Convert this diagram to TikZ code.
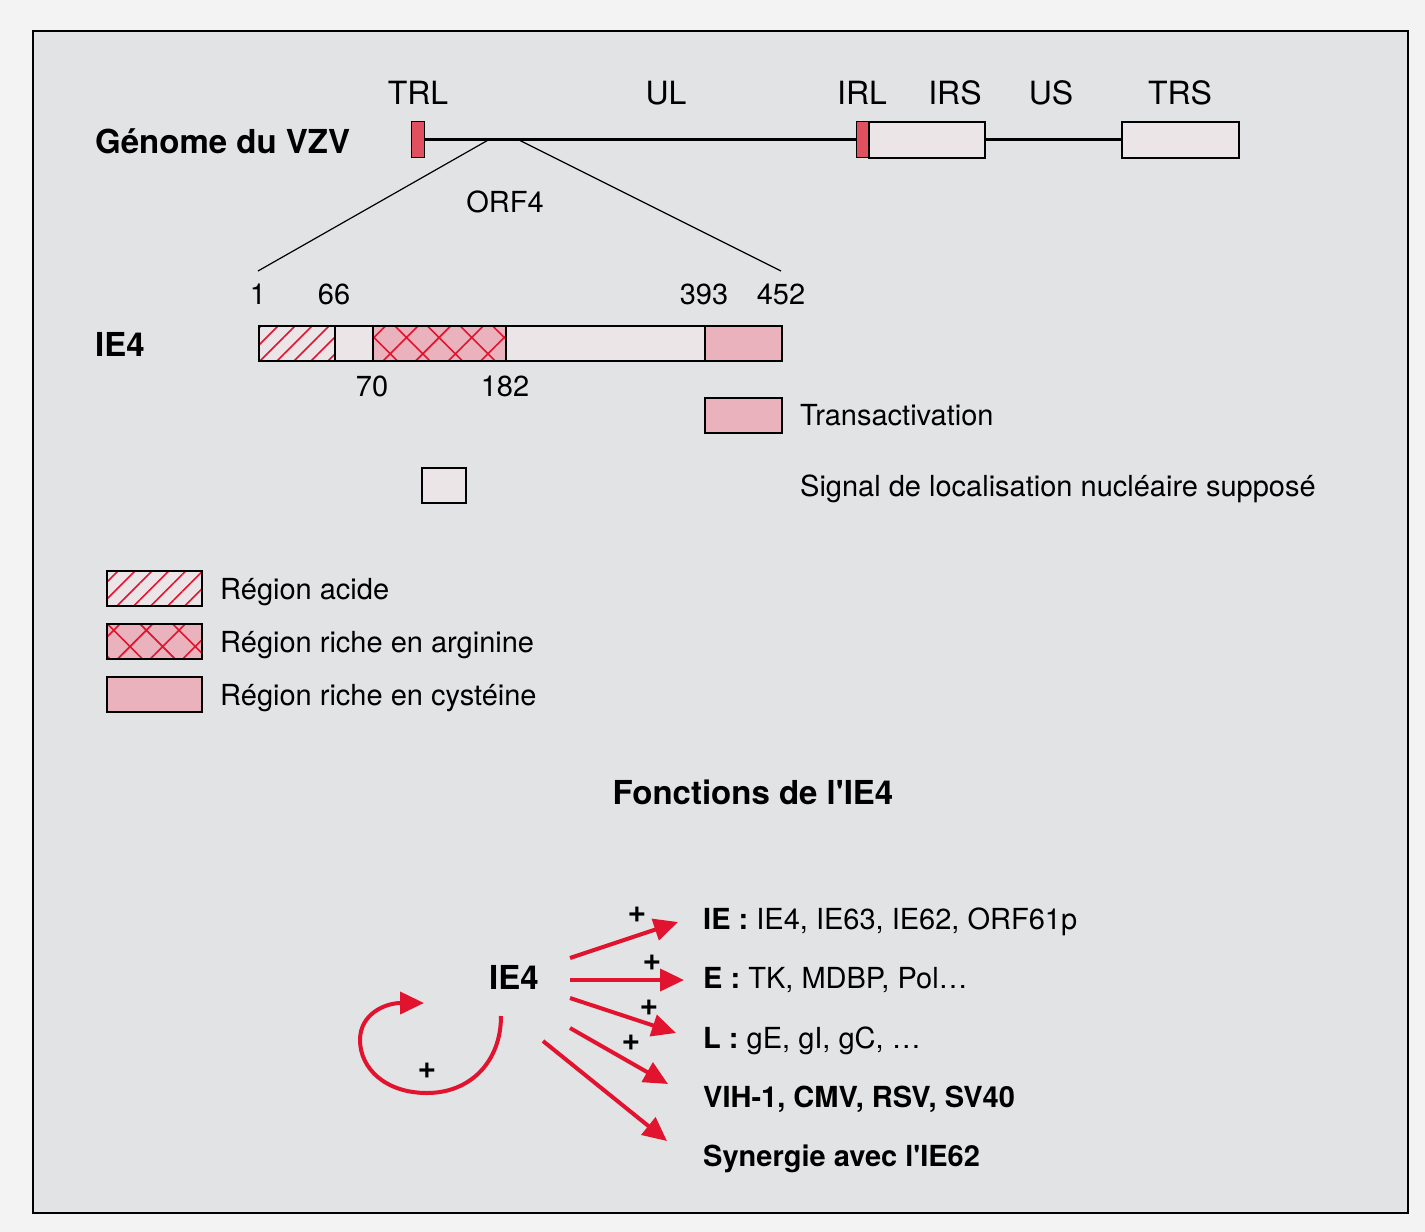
\documentclass[tikz,border=0pt]{standalone}
\usepackage{fontspec}
\setmainfont{TeX Gyre Heros}
\usetikzlibrary{arrows.meta,patterns.meta}

\definecolor{outside}{HTML}{F3F3F3}
\definecolor{panel}{HTML}{E2E3E5}
\definecolor{boxfill}{HTML}{ECE5E7}
\definecolor{cyspink}{HTML}{E9B2BC}
\definecolor{ared}{HTML}{E2132E}
\definecolor{trlred}{HTML}{E0505F}

\newcommand{\txtfont}{\fontsize{29}{34}\selectfont}
\newcommand{\labfont}{\fontsize{32}{36}\selectfont}
\newcommand{\headfont}{\bfseries\fontsize{33}{38}\selectfont}

\begin{document}
\begin{tikzpicture}[x=1pt,y=-1pt,
  every node/.style={font=\txtfont,inner sep=0pt},
  frame/.style={draw,line width=1.5pt,minimum height=35pt,anchor=north west},
  plain/.style={frame,fill=boxfill},
  cys/.style={frame,fill=cyspink},
  acid/.style={frame,preaction={fill=boxfill},pattern={Lines[angle=45,distance=12pt,line width=1.6pt]},pattern color=ared},
  arg/.style={frame,preaction={fill=cyspink},pattern={Hatch[angle=45,distance=23pt,line width=1.6pt]},pattern color=ared},
  redbar/.style={frame,fill=trlred,line width=1pt,minimum width=13pt,minimum height=36pt},
  act/.style={draw=ared,line width=4pt,-{Triangle[length=24pt,width=22pt]}},
  plus/.style={font=\bfseries\fontsize{32}{34}\selectfont}]

  \useasboundingbox (0,0) rectangle (1425,1232);
  \fill[outside] (0,0) rectangle (1425,1232);
  \draw[line width=2pt,fill=panel] (33,31) rectangle (1408,1213);

  % Genome
  \node[anchor=base west,font=\headfont] (gen) at (95,153) {Génome du VZV};
  \node[redbar] (trl) at (411,121) {};
  \node[redbar,minimum width=12pt] (irl) at (856,121) {};
  \node[plain,minimum width=116pt,minimum height=36pt] (irs) at (868,121) {};
  \node[plain,minimum width=117pt,minimum height=36pt] (trs) at (1121,121) {};
  \draw[line width=3pt] (trl.east) -- (irl.west);
  \draw[line width=3pt] (irs.east) -- (trs.west);

  \node[anchor=base,font=\labfont] (ltrl) at (418,104) {TRL};
  \node[anchor=base,font=\labfont] (lul) at (666,104) {UL};
  \node[anchor=base,font=\labfont] (lirl) at (862,104) {IRL};
  \node[anchor=base,font=\labfont] (lirs) at (955,104) {IRS};
  \node[anchor=base,font=\labfont] (lus) at (1051,104) {US};
  \node[anchor=base,font=\labfont] (ltrs) at (1180,104) {TRS};

  % ORF4 zoom
  \coordinate (o1) at (490,139);
  \coordinate (o2) at (517,139);
  \coordinate (f1) at (258,271);
  \coordinate (f2) at (781,271);
  \draw[line width=1.2pt] (o1) -- (f1);
  \draw[line width=1.2pt] (o2) -- (f2);
  \node[anchor=base] (orf) at (505,212) {ORF4};

  % IE4 protein
  \node[anchor=base west,font=\headfont] (ie4) at (95,356) {IE4};
  \node[acid,minimum width=76pt] (s1) at (258,325) {};
  \node[plain,minimum width=38pt] (s2) at (334,325) {};
  \node[arg,minimum width=133pt] (s3) at (372,325) {};
  \node[plain,minimum width=199pt] (s4) at (505,325) {};
  \node[cys,minimum width=77pt] (s5) at (704,325) {};

  \node[anchor=base] (n1) at (258,304) {1};
  \node[anchor=base] (n66) at (334,304) {66};
  \node[anchor=base] (n393) at (704,304) {393};
  \node[anchor=base] (n452) at (781,304) {452};
  \node[anchor=base] (n70) at (372,396) {70};
  \node[anchor=base] (n182) at (505,396) {182};

  % Legend
  \node[cys,minimum width=77pt] (tbox) at (704,397) {};
  \node[anchor=base west] (ttxt) at (800,425) {Transactivation};
  \node[plain,minimum width=44pt] (nbox) at (421,467) {};
  \node[anchor=base west] (ntxt) at (800,496) {Signal de localisation nucléaire supposé};

  \node[acid,minimum width=95pt] (la) at (106,570) {};
  \node[arg,minimum width=95pt] (lg) at (106,623) {};
  \node[cys,minimum width=95pt] (lc) at (106,676) {};
  \node[anchor=base west] (ta) at (220,599) {Région acide};
  \node[anchor=base west] (tg) at (220,652) {Région riche en arginine};
  \node[anchor=base west] (tc) at (220,705) {Région riche en cystéine};

  % Functions
  \node[anchor=base,font=\headfont] (fct) at (753,804) {Fonctions de l\textquotesingle IE4};
  \node[anchor=base,font=\headfont] (ie4f) at (514,989) {IE4};
  \node[anchor=base west] (fie) at (703,929) {\textbf{IE :} IE4, IE63, IE62, ORF61p};
  \node[anchor=base west] (fe) at (703,988) {\textbf{E :} TK, MDBP, Pol\dots};
  \node[anchor=base west] (fl) at (703,1048) {\textbf{L :} gE, gI, gC, \dots};
  \node[anchor=base west] (fvih) at (703,1107) {\textbf{VIH-1, CMV, RSV, SV40}};
  \node[anchor=base west] (fsyn) at (703,1166) {\textbf{Synergie avec l\textquotesingle IE62}};

  \coordinate (a1) at (570,958);
  \coordinate (a2) at (570,980);
  \coordinate (a3) at (570,998);
  \coordinate (a4) at (570,1028);
  \coordinate (a5) at (543,1041);
  \draw[act] (a1) -- ([xshift=-25pt,yshift=7pt]fie.base west);
  \draw[act] (a2) -- ([xshift=-19pt,yshift=8pt]fe.base west);
  \draw[act] (a3) -- ([xshift=-27pt,yshift=15pt]fl.base west);
  \draw[act] (a4) -- ([xshift=-35pt,yshift=23pt]fvih.base west);
  \draw[act] (a5) -- ([xshift=-36pt,yshift=25pt]fsyn.base west);

  % self activation loop
  \coordinate (la0) at (501,1016);
  \coordinate (la1) at (424,1003);
  \draw[act] (la0) .. controls (501,1062) and (470,1093) .. (427,1093)
    .. controls (385,1093) and (360,1068) .. (360,1040)
    .. controls (360,1014) and (385,1003) .. (la1);

  \node[plus] (p1) at (637,915) {+};
  \node[plus] (p2) at (652,963) {+};
  \node[plus] (p3) at (649,1008) {+};
  \node[plus] (p4) at (631,1043) {+};
  \node[plus] (p5) at (427,1071) {+};

\end{tikzpicture}
\end{document}
